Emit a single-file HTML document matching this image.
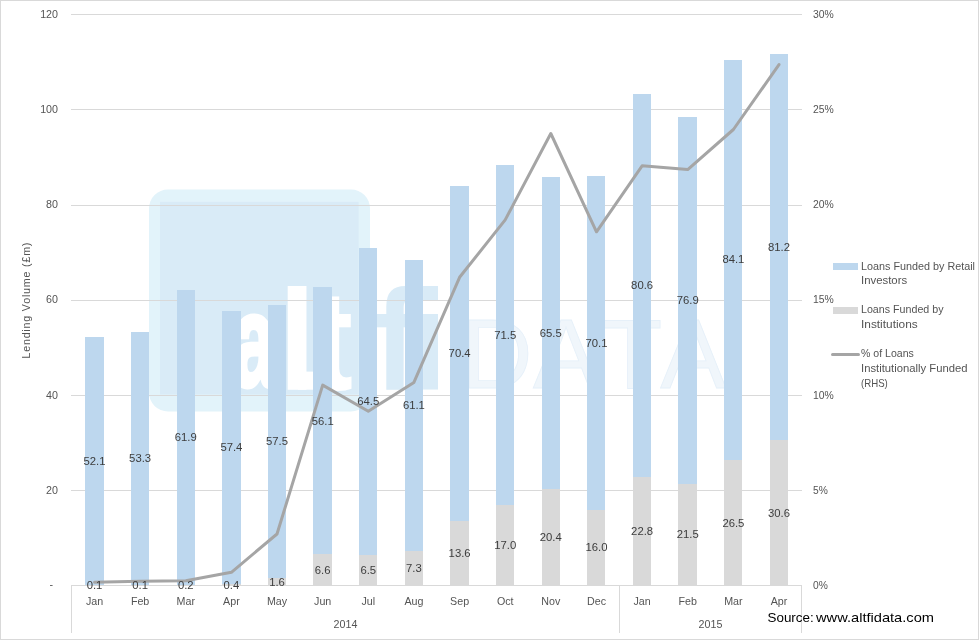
<!DOCTYPE html>
<html lang="en"><head><meta charset="utf-8"><title>Lending Volume</title>
<style>
html,body{margin:0;padding:0;background:#fff;}
body{width:979px;height:640px;overflow:hidden;}
svg{display:block;font-family:"Liberation Sans",sans-serif;}
.ax{font-size:10.7px;fill:#545454;}
.dl{font-size:11.3px;fill:#3c3c3c;}
</style></head><body>
<svg width="979" height="640" viewBox="0 0 979 640">
<rect x="0" y="0" width="979" height="640" fill="#ffffff"/>

<g id="wm">
<rect x="149" y="189.5" width="221" height="222" rx="19" ry="19" fill="#e2f3fa"/>
<defs><filter id="soft" x="-5%" y="-5%" width="110%" height="110%"><feGaussianBlur stdDeviation="0.7"/></filter></defs>
<rect x="160" y="201.8" width="198.7" height="192.7" fill="#d9ebf7" filter="url(#soft)"/>
<rect x="298" y="371.6" width="24" height="18.1" fill="#ffffff"/>
<text font-weight="bold" lengthAdjust="spacingAndGlyphs"><tspan x="232.2" y="386.1" font-size="130.7" textLength="43.9" lengthAdjust="spacingAndGlyphs" fill="#ffffff" stroke="#ffffff" stroke-width="5">a</tspan><tspan x="278.3" y="389.8" font-size="143" textLength="37.8" lengthAdjust="spacingAndGlyphs" fill="#ffffff">l</tspan><tspan x="314.3" y="389.8" font-size="142" textLength="38.6" lengthAdjust="spacingAndGlyphs" fill="#ffffff">t</tspan><tspan x="374.6" y="389.6" font-size="143" textLength="41.9" lengthAdjust="spacingAndGlyphs" fill="#d9ebf7">f</tspan><tspan x="415.4" y="389.6" font-size="143" textLength="30.2" lengthAdjust="spacingAndGlyphs" fill="#d9ebf7">i</tspan></text>
<text x="461.3 533.1 601.9 660.3" y="387.6" font-size="98.8" fill="#f0f6fb" stroke="#e6f0f9" stroke-width="0.8">DATA</text>
</g>

<g fill="#d9d9d9" shape-rendering="crispEdges">
<rect x="71" y="14" width="731" height="1"/>
<rect x="71" y="109" width="731" height="1"/>
<rect x="71" y="205" width="731" height="1"/>
<rect x="71" y="300" width="731" height="1"/>
<rect x="71" y="395" width="731" height="1"/>
<rect x="71" y="490" width="731" height="1"/>
<rect x="71" y="585" width="731" height="1"/>
</g>

<g shape-rendering="crispEdges">
<rect x="85" y="337" width="19" height="248" fill="#bdd7ee"/>
<rect x="131" y="332" width="18" height="253" fill="#bdd7ee"/>
<rect x="177" y="290" width="18" height="295" fill="#bdd7ee"/>
<rect x="222" y="311" width="19" height="273" fill="#bdd7ee"/>
<rect x="222" y="584" width="19" height="1" fill="#d9d9d9"/>
<rect x="268" y="305" width="18" height="273" fill="#bdd7ee"/>
<rect x="268" y="578" width="18" height="7" fill="#d9d9d9"/>
<rect x="313" y="287" width="19" height="267" fill="#bdd7ee"/>
<rect x="313" y="554" width="19" height="31" fill="#d9d9d9"/>
<rect x="359" y="248" width="18" height="307" fill="#bdd7ee"/>
<rect x="359" y="555" width="18" height="30" fill="#d9d9d9"/>
<rect x="405" y="260" width="18" height="291" fill="#bdd7ee"/>
<rect x="405" y="551" width="18" height="34" fill="#d9d9d9"/>
<rect x="450" y="186" width="19" height="335" fill="#bdd7ee"/>
<rect x="450" y="521" width="19" height="64" fill="#d9d9d9"/>
<rect x="496" y="165" width="18" height="340" fill="#bdd7ee"/>
<rect x="496" y="505" width="18" height="80" fill="#d9d9d9"/>
<rect x="542" y="177" width="18" height="312" fill="#bdd7ee"/>
<rect x="542" y="489" width="18" height="96" fill="#d9d9d9"/>
<rect x="587" y="176" width="18" height="334" fill="#bdd7ee"/>
<rect x="587" y="510" width="18" height="75" fill="#d9d9d9"/>
<rect x="633" y="94" width="18" height="383" fill="#bdd7ee"/>
<rect x="633" y="477" width="18" height="108" fill="#d9d9d9"/>
<rect x="678" y="117" width="19" height="367" fill="#bdd7ee"/>
<rect x="678" y="484" width="19" height="101" fill="#d9d9d9"/>
<rect x="724" y="60" width="18" height="400" fill="#bdd7ee"/>
<rect x="724" y="460" width="18" height="125" fill="#d9d9d9"/>
<rect x="770" y="54" width="18" height="386" fill="#bdd7ee"/>
<rect x="770" y="440" width="18" height="145" fill="#d9d9d9"/>
</g>

<g fill="#d9d9d9" shape-rendering="crispEdges">
<rect x="71" y="585" width="1" height="48"/>
<rect x="619" y="585" width="1" height="48"/>
<rect x="801" y="585" width="1" height="48"/>
</g>

<polyline points="94.5,582.2 140.1,581.3 185.8,580.8 231.4,572.3 277.0,534.0 322.7,385.1 368.3,411.3 413.9,382.4 459.6,277.3 505.2,219.9 550.8,133.5 596.5,231.8 642.1,165.8 687.7,169.6 733.4,129.5 779.0,64.6" fill="none" stroke="#a5a5a5" stroke-width="3" stroke-linejoin="round" stroke-linecap="round"/>

<g class="dl" text-anchor="middle">
<text x="94.5" y="465.1">52.1</text>
<text x="94.5" y="589.3">0.1</text>
<text x="140.1" y="462.2">53.3</text>
<text x="140.1" y="589.3">0.1</text>
<text x="185.8" y="441.3">61.9</text>
<text x="185.8" y="589.0">0.2</text>
<text x="231.4" y="451.0">57.4</text>
<text x="231.4" y="588.5">0.4</text>
<text x="277.0" y="445.1">57.5</text>
<text x="277.0" y="585.7">1.6</text>
<text x="322.7" y="424.6">56.1</text>
<text x="322.7" y="573.8">6.6</text>
<text x="368.3" y="405.1">64.5</text>
<text x="368.3" y="574.0">6.5</text>
<text x="413.9" y="409.4">61.1</text>
<text x="413.9" y="572.1">7.3</text>
<text x="459.6" y="357.3">70.4</text>
<text x="459.6" y="557.1">13.6</text>
<text x="505.2" y="338.5">71.5</text>
<text x="505.2" y="549.1">17.0</text>
<text x="550.8" y="336.6">65.5</text>
<text x="550.8" y="541.0">20.4</text>
<text x="596.5" y="346.6">70.1</text>
<text x="596.5" y="551.4">16.0</text>
<text x="642.1" y="289.2">80.6</text>
<text x="642.1" y="535.3">22.8</text>
<text x="687.7" y="304.2">76.9</text>
<text x="687.7" y="538.3">21.5</text>
<text x="733.4" y="263.3">84.1</text>
<text x="733.4" y="526.5">26.5</text>
<text x="779.0" y="250.7">81.2</text>
<text x="779.0" y="516.7">30.6</text>
</g>

<g class="ax" text-anchor="end">
<text x="58" y="493.7">20</text>
<text x="58" y="398.6">40</text>
<text x="58" y="303.4">60</text>
<text x="58" y="208.2">80</text>
<text x="58" y="113.1">100</text>
<text x="58" y="17.9">120</text>
<text x="53" y="587.9">-</text>
</g>

<g class="ax" text-anchor="start">
<text x="813" y="588.9" textLength="14.8" lengthAdjust="spacingAndGlyphs">0%</text>
<text x="813" y="493.7" textLength="14.8" lengthAdjust="spacingAndGlyphs">5%</text>
<text x="813" y="398.6" textLength="20.8" lengthAdjust="spacingAndGlyphs">10%</text>
<text x="813" y="303.4" textLength="20.8" lengthAdjust="spacingAndGlyphs">15%</text>
<text x="813" y="208.2" textLength="20.8" lengthAdjust="spacingAndGlyphs">20%</text>
<text x="813" y="113.1" textLength="20.8" lengthAdjust="spacingAndGlyphs">25%</text>
<text x="813" y="17.9" textLength="20.8" lengthAdjust="spacingAndGlyphs">30%</text>
</g>

<g class="ax" text-anchor="middle">
<text x="94.5" y="605.3">Jan</text>
<text x="140.1" y="605.3">Feb</text>
<text x="185.8" y="605.3">Mar</text>
<text x="231.4" y="605.3">Apr</text>
<text x="277.0" y="605.3">May</text>
<text x="322.7" y="605.3">Jun</text>
<text x="368.3" y="605.3">Jul</text>
<text x="413.9" y="605.3">Aug</text>
<text x="459.6" y="605.3">Sep</text>
<text x="505.2" y="605.3">Oct</text>
<text x="550.8" y="605.3">Nov</text>
<text x="596.5" y="605.3">Dec</text>
<text x="642.1" y="605.3">Jan</text>
<text x="687.7" y="605.3">Feb</text>
<text x="733.4" y="605.3">Mar</text>
<text x="779.0" y="605.3">Apr</text>
<text x="345.5" y="628">2014</text>
<text x="710.5" y="628">2015</text>
</g>

<text class="ax" transform="translate(30,358.6) rotate(-90)" textLength="116" lengthAdjust="spacing">Lending Volume (£m)</text>

<g class="ax">
<rect x="833" y="263" width="25" height="7" fill="#bdd7ee" shape-rendering="crispEdges"/>
<text x="861" y="270" textLength="114" lengthAdjust="spacingAndGlyphs">Loans Funded by Retail</text>
<text x="861" y="284" textLength="46.2" lengthAdjust="spacingAndGlyphs">Investors</text>
<rect x="833" y="307" width="25" height="7" fill="#d9d9d9" shape-rendering="crispEdges"/>
<text x="861" y="313.2" textLength="82.5" lengthAdjust="spacingAndGlyphs">Loans Funded by</text>
<text x="861" y="327.5" textLength="56.7" lengthAdjust="spacingAndGlyphs">Institutions</text>
<line x1="832.5" y1="354.5" x2="858.5" y2="354.5" stroke="#a5a5a5" stroke-width="3" stroke-linecap="round"/>
<text x="861" y="357.2" textLength="52.8" lengthAdjust="spacingAndGlyphs">% of Loans</text>
<text x="861" y="372" textLength="106.5" lengthAdjust="spacingAndGlyphs">Institutionally Funded</text>
<text x="861" y="386.5" textLength="26.8" lengthAdjust="spacingAndGlyphs">(RHS)</text>
</g>

<text y="622" font-size="13.5" fill="#000000"><tspan x="767.5" textLength="46.2" lengthAdjust="spacingAndGlyphs">Source:</tspan> <tspan x="816" textLength="118" lengthAdjust="spacingAndGlyphs">www.altfidata.com</tspan></text>

<g fill="#d9d9d9" shape-rendering="crispEdges">
<rect x="0" y="0" width="979" height="1"/><rect x="0" y="0" width="1" height="640"/>
<rect x="978" y="0" width="1" height="640"/><rect x="0" y="639" width="979" height="1"/>
</g>

</svg>
</body></html>
